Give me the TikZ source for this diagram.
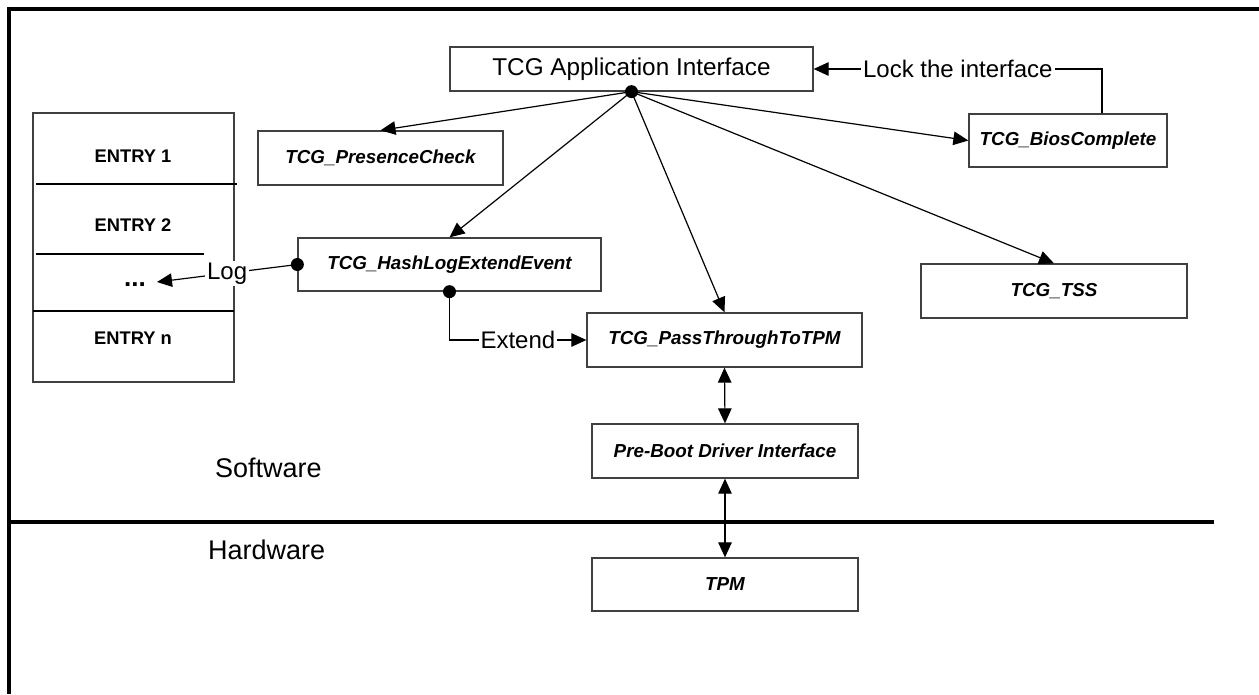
\documentclass[tikz,border=0pt]{standalone}
\usepackage{fontspec}
\setmainfont{Liberation Sans}
\usetikzlibrary{arrows.meta}

\begin{document}
\begin{tikzpicture}[x=1pt, y=-1pt, line join=miter,
  box/.style={draw=black!75, line width=1.3pt, fill=white, inner sep=0pt,
    font=\fontsize{18.8}{22}\selectfont\bfseries\itshape},
  lbl/.style={fill=white, inner sep=2pt, font=\fontsize{24}{28}\selectfont},
  entry/.style={inner sep=0pt, font=\fontsize{18.3}{22}\selectfont\bfseries},
  conn/.style={line width=1.2pt, -{Triangle[length=15pt,width=13.5pt]}},
  both/.style={line width=1.2pt, {Triangle[length=15pt,width=13.5pt]}-{Triangle[length=15pt,width=13.5pt]}},
  hubdot/.style={circle, fill=black, inner sep=0pt, minimum size=13pt}]

  %% ════ frame and divider ════
  \draw[line width=4.5pt] (9,694) -- (9,9) -- (1259,9);
  \draw[line width=4.5pt] (10,522) -- (1214,522);

  %% ════ boxes ════
  \node[box, font=\fontsize{24.3}{28}\selectfont, minimum width=363pt, minimum height=44pt] (app) at (631.5,69) {TCG Application Interface};
  \node[box, minimum width=245pt, minimum height=54pt] (pres) at (380.5,158) {TCG\_PresenceCheck};
  \node[box, minimum width=198pt, minimum height=53pt] (bios) at (1068,140.5) {TCG\_BiosComplete};
  \node[box, minimum width=303pt, minimum height=53pt] (hash) at (449.5,264.5) {TCG\_HashLogExtendEvent};
  \node[box, minimum width=275pt, minimum height=54pt] (pass) at (724.5,340) {TCG\_PassThroughToTPM};
  \node[box, minimum width=266pt, minimum height=54pt] (tss) at (1054,291) {TCG\_TSS};
  \node[box, minimum width=266pt, minimum height=54pt] (boot) at (725,451) {Pre-Boot Driver Interface};
  \node[box, minimum width=266pt, minimum height=53pt] (tpm) at (725,584.5) {TPM};

  %% ════ event log table ════
  \draw[draw=black!75, line width=1.3pt] (33,113) rectangle (234,382);
  \draw[line width=1.8pt] (36,184) -- (237,184);
  \draw[line width=1.8pt] (36,254) -- (204,254);
  \draw[line width=1.8pt] (33,311) -- (234,311);
  \node[entry] (e1) at (133,156) {ENTRY 1};
  \node[entry] (e2) at (133,225) {ENTRY 2};
  \node[entry, font=\fontsize{26}{30}\selectfont\bfseries] (more) at (135,285) {...};
  \node[entry] (en) at (133,338) {ENTRY n};
  \coordinate (logend) at (157,282);

  %% ════ side labels ════
  \node[font=\fontsize{27}{32}\selectfont, anchor=west, inner sep=0pt] (sw) at (215,468) {Software};
  \node[font=\fontsize{27}{32}\selectfont, anchor=west, inner sep=0pt] (hw) at (208,550) {Hardware};

  %% ════ connectors ════
  \node[hubdot] (hub) at (app.south) {};
  \draw[conn] (hub.center) -- (pres.north);
  \draw[conn] (hub.center) -- (hash.north);
  \draw[conn] (hub.center) -- (pass.north);
  \draw[conn] (hub.center) -- (tss.north);
  \draw[conn] (hub.center) -- (bios.west);

  \draw[conn] ([xshift=34pt]bios.north) |- node[lbl, pos=0.75] (lock) {Lock the interface} (app.east);

  \node[hubdot] (logdot) at (hash.west) {};
  \draw[conn] (logdot.center) -- node[lbl] (log) {Log} (logend);

  \node[hubdot] (extdot) at (hash.south) {};
  \draw[conn] (extdot.center) |- node[lbl, pos=0.75] (ext) {Extend} (pass.west);

  \draw[both] (pass.south) -- (boot.north);
  \draw[both] (boot.south) -- (tpm.north);

  % pin the canvas
  \pgfresetboundingbox
  \path[use as bounding box] (0,0) rectangle (1259,694);
\end{tikzpicture}
\end{document}
